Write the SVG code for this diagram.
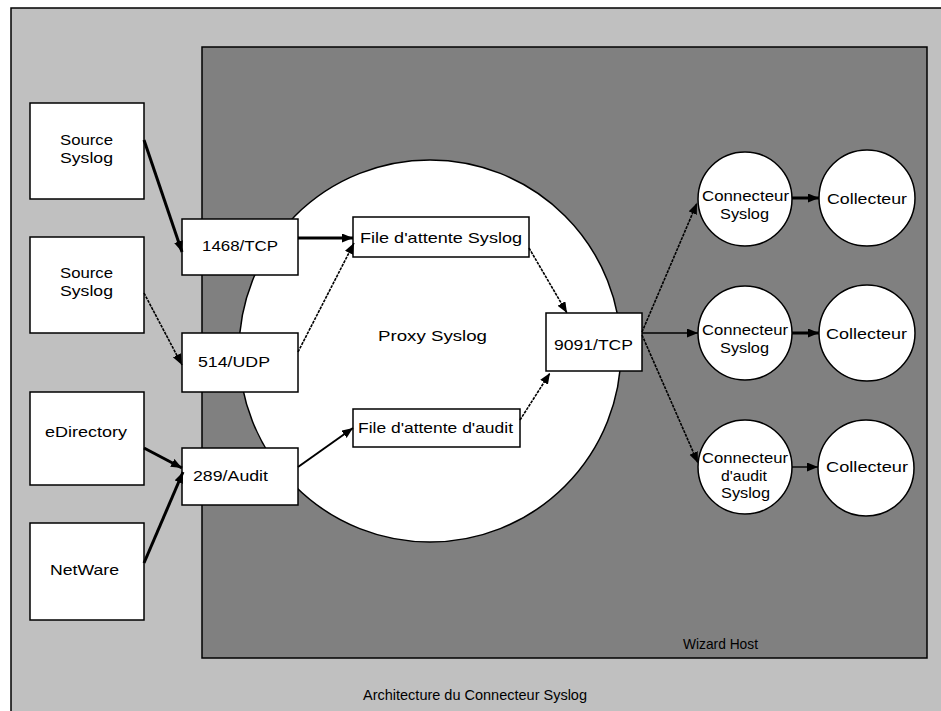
<svg xmlns="http://www.w3.org/2000/svg" width="941" height="711" viewBox="0 0 941 711">
<style>
  text { font-family: "Liberation Sans", Arial, sans-serif; font-size: 15px; fill: #000; }
  .box { fill: #fff; stroke: #000; stroke-width: 1.5; }
  .c { fill: none; stroke: #000; marker-end: url(#ah); }
  .thick { stroke-width: 3; }
  .med { stroke-width: 2; }
  .thin { stroke-width: 1.4; }
  .dot { stroke-width: 1.6; stroke-dasharray: 3 1; }
</style>
<defs>
  <marker id="ah" markerUnits="userSpaceOnUse" markerWidth="12" markerHeight="10" refX="11" refY="4.5" orient="auto">
    <path d="M0,0 L11,4.5 L0,9 z" fill="#000"/>
  </marker>
</defs>
<rect id="background" x="11" y="8" width="945" height="720" fill="#c0c0c0" stroke="#000" stroke-width="1.5"/>
<g id="wizard-host">
  <rect x="202" y="47" width="725" height="611" fill="#808080" stroke="#000" stroke-width="1.5"/>
  <text x="683" y="649" textLength="75" lengthAdjust="spacingAndGlyphs">Wizard Host</text>
</g>
<g id="proxy-syslog">
  <circle cx="430" cy="351" r="191" fill="#fff" stroke="#000" stroke-width="1.5"/>
  <text x="378" y="341" textLength="109" lengthAdjust="spacingAndGlyphs">Proxy Syslog</text>
</g>
<g id="source-syslog-1">
  <rect class="box" x="30" y="103" width="114" height="96"/>
  <text x="60" y="145" textLength="53" lengthAdjust="spacingAndGlyphs">Source</text>
  <text x="60" y="163" textLength="53" lengthAdjust="spacingAndGlyphs">Syslog</text>
</g>
<g id="source-syslog-2">
  <rect class="box" x="30" y="237" width="114" height="96"/>
  <text x="60" y="278" textLength="53" lengthAdjust="spacingAndGlyphs">Source</text>
  <text x="60" y="296" textLength="53" lengthAdjust="spacingAndGlyphs">Syslog</text>
</g>
<g id="edirectory">
  <rect class="box" x="30" y="392" width="114" height="93"/>
  <text x="45" y="437" textLength="82" lengthAdjust="spacingAndGlyphs">eDirectory</text>
</g>
<g id="netware">
  <rect class="box" x="30" y="523" width="114" height="97"/>
  <text x="50" y="575" textLength="69" lengthAdjust="spacingAndGlyphs">NetWare</text>
</g>
<g id="port-1468">
  <rect class="box" x="182" y="219" width="116" height="56"/>
  <text x="202" y="251" textLength="76" lengthAdjust="spacingAndGlyphs">1468/TCP</text>
</g>
<g id="port-514">
  <rect class="box" x="182" y="333" width="116" height="59"/>
  <text x="198" y="367" textLength="72" lengthAdjust="spacingAndGlyphs">514/UDP</text>
</g>
<g id="port-289">
  <rect class="box" x="182" y="448" width="116" height="57"/>
  <text x="193" y="481" textLength="75" lengthAdjust="spacingAndGlyphs">289/Audit</text>
</g>
<g id="queue-syslog">
  <rect class="box" x="353" y="217" width="176" height="40"/>
  <text x="360" y="243" textLength="162" lengthAdjust="spacingAndGlyphs">File d'attente Syslog</text>
</g>
<g id="queue-audit">
  <rect class="box" x="353" y="409" width="167" height="38"/>
  <text x="358" y="433" textLength="155" lengthAdjust="spacingAndGlyphs">File d'attente d'audit</text>
</g>
<g id="port-9091">
  <rect class="box" x="546" y="313" width="96" height="58"/>
  <text x="554" y="350" textLength="79" lengthAdjust="spacingAndGlyphs">9091/TCP</text>
</g>
<g id="connecteur-syslog-1">
  <circle class="box" cx="745" cy="199" r="47"/>
  <text x="702" y="201" textLength="87" lengthAdjust="spacingAndGlyphs">Connecteur</text>
  <text x="720" y="219" textLength="49" lengthAdjust="spacingAndGlyphs">Syslog</text>
</g>
<g id="collecteur-1">
  <circle class="box" cx="867" cy="198" r="48"/>
  <text x="827" y="204" textLength="80" lengthAdjust="spacingAndGlyphs">Collecteur</text>
</g>
<g id="connecteur-syslog-2">
  <circle class="box" cx="745" cy="333" r="47"/>
  <text x="702" y="335" textLength="86" lengthAdjust="spacingAndGlyphs">Connecteur</text>
  <text x="720" y="353" textLength="49" lengthAdjust="spacingAndGlyphs">Syslog</text>
</g>
<g id="collecteur-2">
  <circle class="box" cx="867" cy="333" r="48"/>
  <text x="826" y="339" textLength="81" lengthAdjust="spacingAndGlyphs">Collecteur</text>
</g>
<g id="connecteur-audit-syslog">
  <circle class="box" cx="745" cy="467" r="47"/>
  <text x="702" y="463" textLength="86" lengthAdjust="spacingAndGlyphs">Connecteur</text>
  <text x="721" y="481" textLength="46" lengthAdjust="spacingAndGlyphs">d'audit</text>
  <text x="721" y="498" textLength="49" lengthAdjust="spacingAndGlyphs">Syslog</text>
</g>
<g id="collecteur-3">
  <circle class="box" cx="866" cy="468" r="48"/>
  <text x="826" y="472" textLength="82" lengthAdjust="spacingAndGlyphs">Collecteur</text>
</g>
<g id="connectors">
  <line class="c thick" x1="144" y1="140" x2="182" y2="252"/>
  <line class="c dot" x1="144" y1="293" x2="182" y2="365"/>
  <line class="c thick" x1="144" y1="448" x2="182" y2="468"/>
  <line class="c thick" x1="144" y1="563" x2="183" y2="472"/>
  <line class="c thick" x1="298" y1="238" x2="353" y2="238"/>
  <line class="c dot" x1="298" y1="352" x2="354" y2="243"/>
  <line class="c med" x1="298" y1="467" x2="353" y2="428"/>
  <line class="c dot" x1="529" y1="248" x2="567" y2="313"/>
  <line class="c dot" x1="520" y1="420" x2="550" y2="373"/>
  <line class="c dot" x1="642" y1="332" x2="697" y2="203"/>
  <line class="c thin" x1="642" y1="333" x2="698" y2="333"/>
  <line class="c dot" x1="642" y1="335" x2="698" y2="463"/>
  <line class="c thick" x1="792" y1="198" x2="819" y2="198"/>
  <line class="c thick" x1="792" y1="333" x2="819" y2="333"/>
  <line class="c thin" x1="792" y1="467" x2="818" y2="467"/>
</g>
<text id="caption" x="363" y="700" textLength="224" lengthAdjust="spacingAndGlyphs">Architecture du Connecteur Syslog</text>
</svg>
